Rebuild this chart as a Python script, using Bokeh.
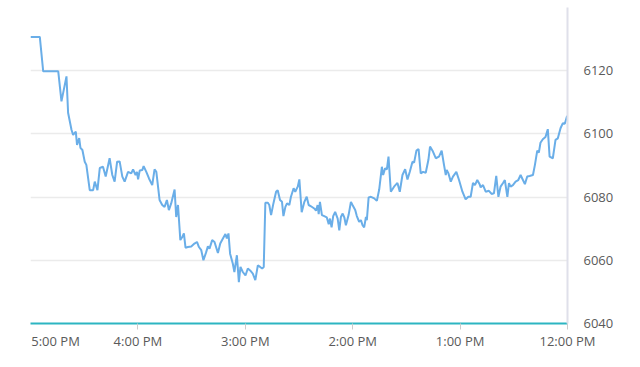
from bokeh.plotting import figure
from bokeh.models import Range1d, FixedTicker, ColumnDataSource, LinearAxis
from bokeh.embed import file_html
from bokeh.resources import INLINE

# minutes after 12:00 PM
minutes = [300, 294.8, 292.9, 284.5, 282.7, 279.9, 279.0, 277.1, 276.2, 274.7, 274.0, 272.8, 272.1, 271.0,
           269.7, 268.8, 266.9, 265.0, 264.1, 262.6, 261.3, 259.5, 258.0, 255.8, 254.3, 253.0, 251.6, 250.2,
           248.7, 247.4, 245.5, 243.7, 242.7, 241.3, 240.5, 239.9, 239.0, 237.5, 236.8, 235.3, 233.8, 232.0,
           230.7, 229.7, 227.9, 226.4, 225.1, 223.8, 222.7, 221.4, 219.5, 218.6, 217.6, 216.3, 215.2, 214.3,
           213.4, 212.1, 210.2, 208.4, 207.0, 205.9, 204.6, 203.4, 201.9, 200.9, 200.0, 198.5, 197.2, 195.3,
           194.0, 192.5, 191.1, 190.3, 189.4, 188.5, 187.0, 186.1, 184.7, 183.6, 182.7, 181.4, 179.9, 178.6,
           177.3, 175.8, 174.4, 173.0, 171.7, 170.6, 169.7, 168.8, 167.4, 166.6, 165.6, 164.3, 162.8, 161.9,
           160.6, 159.5, 158.7, 157.6, 156.7, 155.4, 154.5, 153.0, 152.1, 150.7, 149.8, 148.5, 147.0, 145.7,
           144.6, 143.3, 141.5, 140.5, 139.6, 139.0, 138.3, 137.2, 135.9, 134.5, 133.4, 132.7, 131.8, 130.9,
           129.8, 128.4, 127.5, 126.6, 125.6, 124.7, 123.8, 122.3, 121.0, 120.1, 118.6, 117.7, 116.4, 115.4,
           114.5, 113.6, 112.6, 112.1, 111.1, 109.8, 108.0, 106.5, 105.2, 103.7, 103.0, 101.9, 100.9, 100.0,
           98.7, 96.9, 95.0, 93.7, 92.2, 90.7, 89.4, 88.1, 86.6, 85.7, 84.4, 83.2, 82.0, 80.7, 79.2, 77.7,
           76.8, 75.4, 73.6, 71.8, 70.3, 69.0, 68.0, 67.5, 66.5, 65.2, 64.0, 62.1, 60.6, 58.7, 56.9, 55.4,
           54.1, 52.8, 51.7, 50.4, 49.1, 48.5, 47.2, 45.7, 43.9, 42.4, 41.1, 39.8, 38.6, 37.4, 36.1, 35.0,
           33.6, 32.7, 31.8, 30.5, 29.0, 27.5, 26.2, 25.3, 23.8, 22.5, 21.2, 19.3, 18.2, 16.9, 16.0, 15.1,
           13.8, 12.3, 11.0, 10.0, 8.2, 6.7, 5.4, 3.9, 2.6, 1.5, 0.2]

prices = [6130.7, 6130.7, 6119.8, 6119.8, 6110.3, 6118.2, 6106.7, 6101.3, 6099.7, 6100.7, 6096.5, 6098.7,
          6095.6, 6094.9, 6091.2, 6090.2, 6082.2, 6082.2, 6084.9, 6082.2, 6089.2, 6089.6, 6086.5, 6092.3,
          6087.0, 6084.9, 6091.2, 6091.3, 6086.5, 6084.9, 6088.0, 6087.5, 6088.8, 6087.0, 6088.0, 6085.6,
          6088.4, 6088.6, 6089.8, 6088.0, 6085.9, 6083.8, 6088.8, 6088.0, 6079.1, 6077.5, 6076.9, 6079.1,
          6075.9, 6078.0, 6082.4, 6073.7, 6077.5, 6066.4, 6067.4, 6068.5, 6064.0, 6064.2, 6064.4, 6065.3,
          6065.8, 6064.2, 6063.2, 6060.0, 6062.5, 6064.4, 6063.7, 6066.4, 6065.8, 6062.3, 6065.3, 6066.9,
          6068.3, 6066.9, 6068.5, 6062.1, 6059.0, 6056.3, 6061.6, 6053.1, 6057.9, 6056.3, 6055.2, 6057.4,
          6056.8, 6055.8, 6053.7, 6058.4, 6057.9, 6057.4, 6057.9, 6078.2, 6078.2, 6077.5, 6074.3, 6078.0,
          6081.7, 6082.2, 6079.1, 6078.5, 6074.0, 6076.9, 6078.0, 6077.5, 6080.1, 6082.8, 6081.7, 6083.3,
          6085.6, 6075.2, 6078.5, 6080.1, 6077.5, 6077.1, 6076.4, 6075.7, 6077.5, 6074.6, 6078.5, 6074.3,
          6074.0, 6073.6, 6071.4, 6073.2, 6070.4, 6074.0, 6075.3, 6073.2, 6069.5, 6073.7, 6074.8, 6073.6,
          6071.1, 6074.3, 6078.5, 6077.5, 6075.9, 6074.0, 6072.2, 6072.7, 6071.1, 6070.4, 6073.7, 6072.7,
          6079.9, 6080.1, 6079.6, 6078.8, 6082.4, 6089.6, 6087.0, 6089.1, 6088.8, 6092.8, 6081.7, 6083.3,
          6084.5, 6081.7, 6087.0, 6088.8, 6085.6, 6088.0, 6091.2, 6090.9, 6094.7, 6095.2, 6087.5, 6088.0,
          6087.7, 6091.8, 6096.0, 6094.7, 6092.3, 6092.8, 6094.7, 6090.2, 6087.0, 6088.6, 6087.5, 6084.9,
          6086.5, 6088.0, 6085.4, 6081.7, 6079.3, 6080.1, 6080.1, 6084.5, 6083.8, 6085.4, 6084.1, 6083.1,
          6083.8, 6081.7, 6082.0, 6081.0, 6081.2, 6086.7, 6080.1, 6083.3, 6084.4, 6085.4, 6080.1, 6084.4,
          6083.3, 6083.8, 6084.9, 6085.4, 6087.0, 6085.9, 6084.1, 6086.5, 6086.7, 6087.0, 6090.2, 6094.7,
          6094.1, 6097.2, 6098.3, 6099.0, 6101.5, 6092.8, 6092.3, 6098.1, 6098.6, 6101.8, 6103.4, 6103.2,
          6105.7]

x_tick_minutes = [0, 60, 120, 180, 240]
x_tick_labels = ["12:00 PM", "1:00 PM", "2:00 PM", "3:00 PM", "4:00 PM"]
first_label_text = "5:00 PM"
first_label_anchor = 286   # label pushed inward so it starts at the frame's left edge
y_ticks = [6040, 6060, 6080, 6100, 6120, 6140]
y_tick_labels = ["6040", "6060", "6080", "6100", "6120", ""]

FONT = "Open Sans"
TXT = "#5a5a5a"

p = figure(width=640, height=367, output_backend="svg", toolbar_location=None,
           x_range=Range1d(300, 0), y_range=Range1d(6040, 6140),
           y_axis_location="right", min_border_left=30, min_border_right=73,
           min_border_top=7, min_border_bottom=44)
p.outline_line_color = None
p.background_fill_color = "white"
p.border_fill_color = "white"

src = ColumnDataSource(dict(m=minutes, v=prices))
p.line("m", "v", source=src, line_color="#6aaee8", line_width=2)

p.xgrid.grid_line_color = None
p.ygrid.grid_line_color = "#ebebeb"
p.ygrid.grid_line_width = 1.5
p.ygrid.ticker = FixedTicker(ticks=y_ticks)

xa = p.xaxis[0]
xa.ticker = FixedTicker(ticks=x_tick_minutes)
xa.major_label_overrides = {m: l for m, l in zip(x_tick_minutes, x_tick_labels)}
xa.axis_line_color = "#2cb5c2"
xa.axis_line_width = 2
xa.major_tick_line_color = "#cccccc"
xa.major_tick_in = 0
xa.major_tick_out = 6
xa.minor_tick_line_color = None
xa.major_label_standoff = 2
xa.major_label_text_font = FONT
xa.major_label_text_font_size = "13px"
xa.major_label_text_color = TXT

# second (tick-less) axis carrying only the left-edge "5:00 PM" label, pulled up onto the same row
xa2 = LinearAxis(ticker=FixedTicker(ticks=[first_label_anchor]),
                 major_label_overrides={first_label_anchor: first_label_text})
xa2.axis_line_color = None
xa2.major_tick_line_color = None
xa2.minor_tick_line_color = None
xa2.major_tick_in = 0
xa2.major_tick_out = 0
xa2.minor_tick_out = 0
xa2.major_label_standoff = -21
xa2.major_label_text_font = FONT
xa2.major_label_text_font_size = "13px"
xa2.major_label_text_color = TXT
p.add_layout(xa2, "below")

ya = p.yaxis[0]
ya.ticker = FixedTicker(ticks=y_ticks)
ya.major_label_overrides = {t: l for t, l in zip(y_ticks, y_tick_labels)}
ya.axis_line_color = "#dfe0ea"
ya.axis_line_width = 2
ya.major_tick_line_color = None
ya.minor_tick_line_color = None
ya.major_label_standoff = 10
ya.major_label_text_font = FONT
ya.major_label_text_font_size = "13px"
ya.major_label_text_color = TXT

open("out.html", "w").write(file_html(p, INLINE))
